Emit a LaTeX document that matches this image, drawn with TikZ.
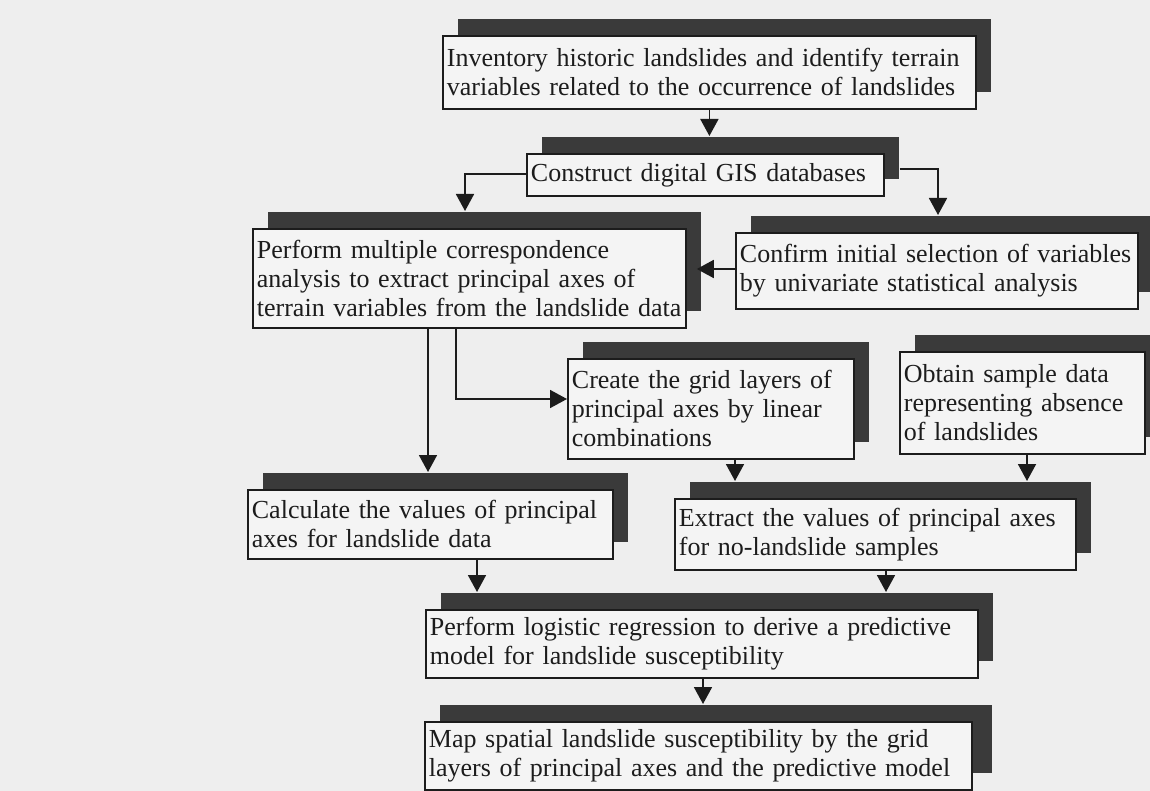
\documentclass[tikz,border=0pt]{standalone}
\usepackage{fontspec}
\setmainfont{Liberation Serif}
\usetikzlibrary{arrows.meta,shadows,calc}
\definecolor{paper}{RGB}{238,238,238}
\definecolor{boxfill}{RGB}{244,244,244}
\definecolor{shade}{RGB}{58,58,58}
\definecolor{ink}{RGB}{28,28,28}
\begin{document}
\begin{tikzpicture}[x=1pt,y=-1pt,
  box/.style={draw=ink, line width=1.8pt, fill=boxfill, anchor=north west,
    align=left, inner xsep=4pt, inner ysep=0pt,
    font=\fontsize{26}{29}\selectfont, text=ink,
    copy shadow={shadow xshift=15pt, shadow yshift=17pt, fill=shade, draw=none}},
  arr/.style={draw=ink, line width=1.8pt, -{Triangle[width=18pt,length=17pt]}}]
\fill[paper] (0,0) rectangle (1150,791);
\useasboundingbox (0,0) rectangle (1150,791);

\node[box, text width=525pt, minimum height=73pt] (b1) at (442,35)
  {Inventory historic landslides and identify terrain\\variables related to the occurrence of landslides};
\node[box, text width=349pt, minimum height=42pt] (b2) at (526,153)
  {Construct digital GIS databases};
\node[box, text width=425pt, minimum height=99pt] (b3) at (252,228)
  {Perform multiple correspondence\\analysis to extract principal axes of\\terrain variables from the landslide data};
\node[box, text width=394pt, minimum height=76pt] (b4) at (735,232)
  {Confirm initial selection of variables\\by univariate statistical analysis};
\node[box, text width=278pt, minimum height=100pt] (b5) at (567,358)
  {Create the grid layers of\\principal axes by linear\\combinations};
\node[box, text width=237pt, minimum height=102pt] (b6) at (899,351)
  {Obtain sample data\\representing absence\\of landslides};
\node[box, text width=357pt, minimum height=69pt] (b7) at (247,489)
  {Calculate the values of principal\\axes for landslide data};
\node[box, text width=393pt, minimum height=71pt] (b8) at (674,498)
  {Extract the values of principal axes\\for no-landslide samples};
\node[box, text width=544pt, minimum height=68pt] (b9) at (425,609)
  {Perform logistic regression to derive a predictive\\model for landslide susceptibility};
\node[box, text width=539pt, minimum height=68pt,
  copy shadow={shadow xshift=20pt, shadow yshift=17pt, fill=shade, draw=none}] (b10) at (424,721)
  {Map spatial landslide susceptibility by the grid\\layers of principal axes and the predictive model};

\coordinate (k1) at (465,174);
\coordinate (k2) at (938,169);
\coordinate (k3) at (700,269);
\coordinate (k5) at (428,0);
\coordinate (k6) at (456,399);
\coordinate (k7) at (735,0);
\coordinate (k8) at (1027,0);
\coordinate (k9) at (477,0);
\coordinate (k10) at (886,0);
\coordinate (k11) at (703,0);

\draw[arr] (b1.south) -- ($(b1.south |- b2.north)+(0,-17)$);
\draw[arr] (b2.west |- k1) -- (k1) -- ($(k1 |- b3.north)+(0,-17)$);
\draw[arr] ($(b2.east |- k2)+(15,0)$) -- (k2) -- ($(k2 |- b4.north)+(0,-17)$);
\draw[arr] (b4.west |- k3) -- ($(b3.east |- k3)+(10,0)$);
\draw[arr] (b3.south -| k5) -- ($(k5 |- b7.north)+(0,-17)$);
\draw[arr] (b3.south -| k6) -- (k6) -- (k6 -| b5.west);
\draw[arr] (b5.south -| k7) -- ($(k7 |- b8.north)+(0,-17)$);
\draw[arr] (b6.south -| k8) -- ($(k8 |- b8.north)+(0,-17)$);
\draw[arr] (b7.south -| k9) -- ($(k9 |- b9.north)+(0,-17)$);
\draw[arr] (b8.south -| k10) -- ($(k10 |- b9.north)+(0,-17)$);
\draw[arr] (b9.south -| k11) -- ($(k11 |- b10.north)+(0,-17)$);
\end{tikzpicture}
\end{document}
